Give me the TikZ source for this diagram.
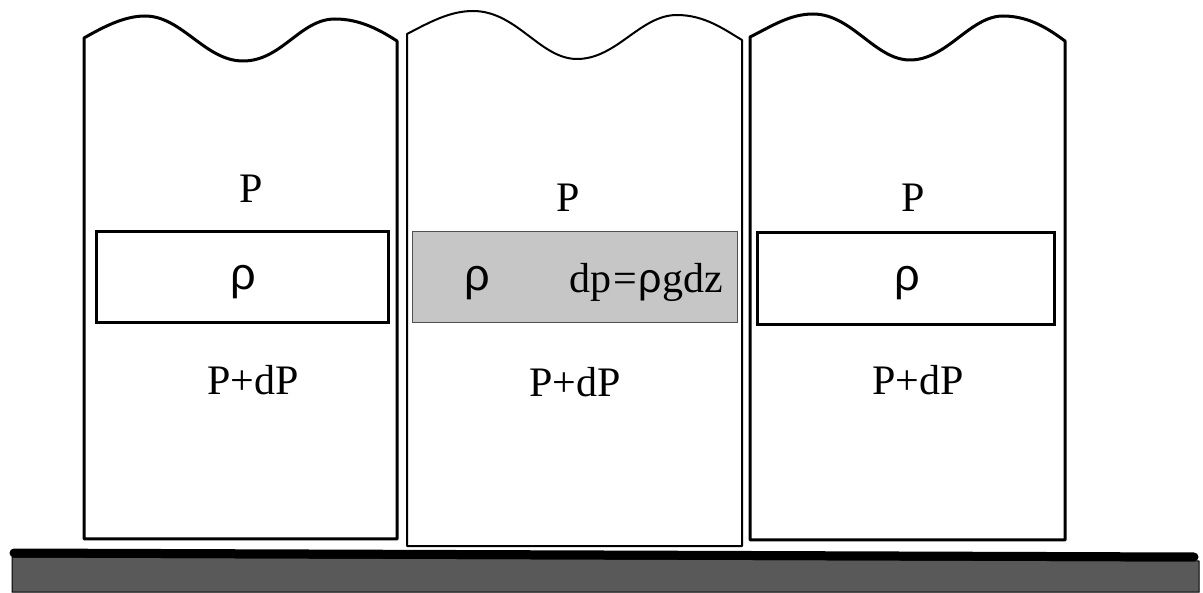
\documentclass[tikz,border=0pt]{standalone}
\usepackage{fontspec}
\setmainfont{Liberation Serif}
\newfontfamily\rhofont{Liberation Sans}
\definecolor{slab}{HTML}{595959}
\definecolor{layer}{HTML}{C6C6C6}
\definecolor{layeredge}{HTML}{505050}
\tikzset{
  column/.style={draw=black, line width=3pt, line join=round},
  thincolumn/.style={draw=black, line width=2pt, line join=round},
  parcel/.style={draw=black, line width=3pt, inner sep=0pt},
  label/.style={anchor=base, inner sep=0pt, font=\fontsize{42}{46}\selectfont},
  rholabel/.style={anchor=base, inner sep=0pt, font=\fontsize{45}{48}\selectfont\rhofont},
}
\begin{document}
\begin{tikzpicture}[x=1pt,y=-1pt]
\useasboundingbox (0,0) rectangle (1203,593);
% columns
\draw[column] (84,38) .. controls (105,26) and (125,16) .. (145,16)
  .. controls (182,16) and (205,61) .. (243,61)
  .. controls (282,61) and (300,19) .. (335,19)
  .. controls (360,19) and (380,30) .. (397,41)
  -- (397,539) -- (84,539) -- cycle;
\draw[thincolumn] (407,34) .. controls (430,22) and (450,11) .. (473,11)
  .. controls (517,11) and (540,59) .. (577,59)
  .. controls (617,59) and (640,15) .. (677,15)
  .. controls (705,15) and (725,30) .. (742,40)
  -- (742,546) -- (407,546) -- cycle;
\draw[column] (750,37) .. controls (772,26) and (790,14) .. (813,14)
  .. controls (852,14) and (875,60) .. (910,60)
  .. controls (947,60) and (970,16) .. (1003,16)
  .. controls (1030,16) and (1050,30) .. (1065,41)
  -- (1065,540) -- (750,540) -- cycle;
% parcels
\node[parcel, minimum width=292pt, minimum height=91pt] (box1) at (242,277.5) {};
\node[draw=layeredge, fill=layer, line width=1pt, inner sep=0pt, minimum width=325pt, minimum height=91pt] (box2) at (574.5,277.5) {};
\node[parcel, minimum width=297pt, minimum height=92pt] (box3) at (905.5,279) {};
% ground
\fill[slab, draw=black, line width=1pt] (12,557) -- (1199,561) -- (1199,592) -- (12,592) -- cycle;
\draw[line width=9pt, line cap=round] (14,553) -- (1194,557);
% texts
\node[label] (p1) at (251,203) {P};
\node[label] (p2) at (568,212) {P};
\node[label] (p3) at (913,212) {P};
\node[rholabel] (r1) at (243,290) {ρ};
\node[rholabel] (r2) at (477,291) {ρ};
\node[rholabel] (r3) at (907,291) {ρ};
\node[label] (eq) at (646,293) {dp\kern2pt=\kern2pt\mbox{\rhofont\fontsize{41}{44}\selectfont ρ}gdz};
\node[label] (pd1) at (253,395) {P+dP};
\node[label] (pd2) at (575,397) {P+dP};
\node[label] (pd3) at (918,395) {P+dP};
\end{tikzpicture}
\end{document}
